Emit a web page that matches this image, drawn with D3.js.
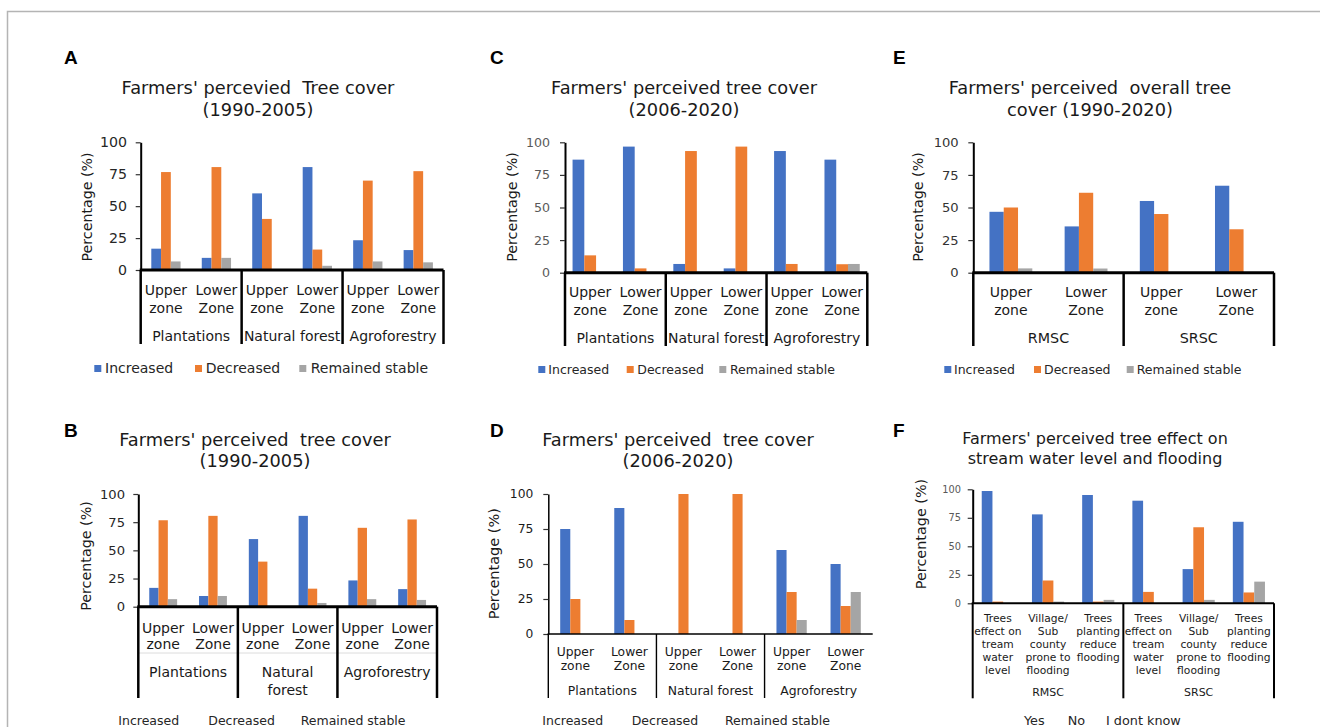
<!DOCTYPE html>
<html><head><meta charset="utf-8">
<script src="https://cdn.jsdelivr.net/npm/d3@7"></script>
<style>
body{margin:0;background:#fff}
svg{display:block}
text{font-family:"DejaVu Sans",Verdana,sans-serif;white-space:pre}
</style>
</head><body>
<svg id="c" width="1320" height="727"></svg>
<script>
// ---------------- DATA ----------------
const yTicks = [0, 25, 50, 75, 100];
const treeLegend = ["Increased", "Decreased", "Remained stable"];
const floodLegend = ["Yes", "No", "I dont know"];

const zoneCats6 = [["Upper","zone"],["Lower","Zone"],["Upper","zone"],["Lower","Zone"],["Upper","zone"],["Lower","Zone"]];
const zoneCats4 = [["Upper","zone"],["Lower","Zone"],["Upper","zone"],["Lower","Zone"]];
const forestGroups = [["Plantations"],["Natural forest"],["Agroforestry"]];
const forestGroupsB = [["Plantations"],["Natural","forest"],["Agroforestry"]];
const catchGroups = [["RMSC"],["SRSC"]];
const floodCats = [
  ["Trees","effect on","tream","water","level"],
  ["Village/","Sub","county","prone to","flooding"],
  ["Trees","planting","reduce","flooding"],
  ["Trees","effect on","tream","water","level"],
  ["Village/","Sub","county","prone to","flooding"],
  ["Trees","planting","reduce","flooding"]
];

// Panel A / B (1990-2005)
const earlyIncreased = [16.7, 9.5, 60, 80.6, 23.3, 15.6];
const earlyDecreased = [76.7, 80.6, 40, 16, 70, 77.4];
const earlyStable    = [6.7, 9.5, 0, 3.3, 6.7, 6];
// Panel C (2006-2020)
const cIncreased = [86.7, 96.7, 6.7, 3.3, 93.3, 86.7];
const cDecreased = [13.3, 3.3, 93.3, 96.7, 6.7, 6.5];
const cStable    = [0, 0, 0, 0, 0, 6.7];
// Panel D (2006-2020)
const dIncreased = [75, 90, 0, 0, 60, 50];
const dDecreased = [25, 10, 100, 100, 30, 20];
const dStable    = [0, 0, 0, 0, 10, 30];
// Panel E (overall 1990-2020)
const eIncreased = [46.7, 35.5, 55, 66.7];
const eDecreased = [50, 61.3, 45, 33.3];
const eStable    = [3.3, 3.2, 0, 0];
// Panel F (flooding)
const fYes  = [98.5, 78, 95, 90, 30, 71.5];
const fNo   = [1.5, 20, 1.5, 10, 66.7, 9.5];
const fIdk  = [0, 1.5, 3, 0, 3, 19];

const colors = ["#4472C4", "#ED7D31", "#A5A5A5"];

// ---------------- DRAW ----------------
const svg = d3.select("#c");
svg.append("rect").attr("x", 7.5).attr("y", 11.5).attr("width", 1340).attr("height", 740)
  .attr("fill", "none").attr("stroke", "#b4b4b4").attr("stroke-width", 1.5);

function panel(cfg) {
  const g = svg.append("g");
  const n = cfg.cats.length;
  const x = d3.scaleBand().domain(d3.range(n)).range([cfg.axX, cfg.axR])
    .paddingInner(cfg.pad).paddingOuter(cfg.pad / 2);
  const xs = d3.scaleBand().domain(d3.range(cfg.series.length)).range([0, x.bandwidth()]);
  const y = d3.scaleLinear().domain([0, 100]).range([cfg.y0, cfg.y100]);
  const step = x.step();

  // bars
  cfg.series.forEach((vals, si) => {
    g.append("g").selectAll("rect").data(vals).join("rect")
      .attr("x", (d, i) => x(i) + xs(si))
      .attr("width", xs.bandwidth())
      .attr("y", d => y(d))
      .attr("height", d => y(0) - y(d))
      .attr("fill", colors[si]);
  });

  // y axis
  const ya = g.append("g").attr("transform", `translate(${cfg.axX},0)`)
    .call(d3.axisLeft(y).tickValues(yTicks).tickSize(5).tickSizeOuter(0).tickPadding(cfg.tickGap - 5));
  ya.attr("font-size", cfg.tickFs);
  ya.select(".domain").attr("stroke", "#000").attr("stroke-width", cfg.yW);
  ya.selectAll(".tick line").attr("stroke", "#333").attr("stroke-width", 1.2);
  ya.selectAll(".tick text").attr("fill", cfg.tickColor);

  // y label
  g.append("text")
    .attr("transform", `translate(${cfg.ylX},${cfg.ylY}) rotate(-90)`)
    .attr("text-anchor", "middle").attr("font-size", cfg.ylFs).attr("fill", "#1a1a1a")
    .text("Percentage (%)");

  // x axis line
  g.append("line").attr("x1", cfg.axX - cfg.yW / 2).attr("x2", cfg.axR)
    .attr("y1", cfg.y0).attr("y2", cfg.y0)
    .attr("stroke", "#000").attr("stroke-width", cfg.xW);

  // optional faint mid line
  if (cfg.midLine) {
    g.append("line").attr("x1", cfg.axX).attr("x2", cfg.axR)
      .attr("y1", cfg.midLine).attr("y2", cfg.midLine)
      .attr("stroke", "#dcdcdc").attr("stroke-width", 1);
  }

  // group separators
  const cpg = n / cfg.groups.length;
  const bounds = d3.range(0, cfg.groups.length + 1).map(k => k * cpg)
    .filter(b => !(cfg.noRight && b === n));
  g.selectAll(".sep").data(bounds).join("line")
    .attr("x1", b => cfg.axX + b * step).attr("x2", b => cfg.axX + b * step)
    .attr("y1", cfg.y0).attr("y2", cfg.sepBottom)
    .attr("stroke", "#000").attr("stroke-width", cfg.sepW);

  // category labels
  cfg.cats.forEach((lines, i) => {
    const t = g.append("text").attr("text-anchor", "middle")
      .attr("font-size", cfg.catFs).attr("fill", "#1a1a1a");
    lines.forEach((ln, j) => {
      t.append("tspan").attr("x", cfg.axX + (i + 0.5) * step)
        .attr("y", cfg.catY + j * cfg.catLH).text(ln);
    });
  });

  // group labels
  cfg.groups.forEach((lines, gi) => {
    const t = g.append("text").attr("text-anchor", "middle")
      .attr("font-size", cfg.grpFs).attr("fill", "#1a1a1a");
    lines.forEach((ln, j) => {
      t.append("tspan").attr("x", cfg.axX + (gi * cpg + cpg / 2) * step)
        .attr("y", cfg.grpY + j * cfg.grpLH).text(ln);
    });
  });

  // title
  const tt = g.append("text").attr("text-anchor", "middle")
    .attr("font-size", cfg.tFs).attr("fill", "#1a1a1a");
  cfg.title.forEach((ln, j) => {
    tt.append("tspan").attr("x", cfg.tx).attr("y", cfg.ty[j]).text(ln);
  });

  // panel letter
  g.append("text").attr("x", cfg.lx).attr("y", cfg.ly)
    .attr("font-size", 19).attr("font-weight", "bold").attr("fill", "#000")
    .style("font-family", "'Liberation Sans',Arial,sans-serif")
    .text(cfg.letter);

  // legend
  cfg.legend.forEach((name, k) => {
    if (cfg.legSq) {
      g.append("rect").attr("x", cfg.legSq[k]).attr("y", cfg.legY - cfg.sq - 1)
        .attr("width", cfg.sq).attr("height", cfg.sq).attr("fill", colors[k]);
    }
    g.append("text").attr("x", cfg.legTx[k]).attr("y", cfg.legY)
      .attr("font-size", cfg.legFs).attr("fill", "#262626").text(name);
  });
}

// Panel A
panel({
  letter: "A", lx: 64, ly: 64,
  title: ["Farmers' percevied  Tree cover", "(1990-2005)"], tx: 258, ty: [94, 116], tFs: 17.8,
  series: [earlyIncreased, earlyDecreased, earlyStable], cats: zoneCats6, groups: forestGroups,
  axX: 140.7, axR: 443.5, y0: 270, y100: 142.3, pad: 0.42,
  tickFs: 14.2, tickGap: 13.7, tickColor: "#262626", yW: 2,
  ylX: 92, ylY: 207, ylFs: 14.2,
  xW: 3, sepW: 2.5, sepBottom: 344,
  catFs: 14, catY: 295, catLH: 17.7, grpFs: 14, grpY: 340.5, grpLH: 17,
  legend: treeLegend, legSq: [94.3, 195, 299.3], legTx: [105, 205.7, 310.7], legY: 373, sq: 7, legFs: 14
});

// Panel B
panel({
  letter: "B", lx: 64, ly: 437,
  title: ["Farmers' perceived  tree cover", "(1990-2005)"], tx: 255, ty: [446, 467], tFs: 17.8,
  series: [earlyIncreased, earlyDecreased, earlyStable], cats: zoneCats6, groups: forestGroupsB,
  axX: 138.3, axR: 437, y0: 606.7, y100: 494, pad: 0.44,
  tickFs: 13.1, tickGap: 13.3, tickColor: "#262626", yW: 2,
  ylX: 90.5, ylY: 556, ylFs: 14.3,
  xW: 3, sepW: 2.5, sepBottom: 698, midLine: 653,
  catFs: 14, catY: 632.7, catLH: 16.5, grpFs: 14, grpY: 677, grpLH: 18,
  legend: treeLegend, legSq: null, legTx: [118.3, 208.3, 300.7], legY: 725, sq: 7, legFs: 12.5
});

// Panel C
panel({
  letter: "C", lx: 490, ly: 64,
  title: ["Farmers' perceived tree cover", "(2006-2020)"], tx: 684, ty: [94, 116], tFs: 17.8,
  series: [cIncreased, cDecreased, cStable], cats: zoneCats6, groups: forestGroups,
  axX: 565, axR: 867.3, y0: 272.7, y100: 142.3, pad: 0.30,
  tickFs: 12.6, tickGap: 15, tickColor: "#595959", yW: 2,
  ylX: 516.5, ylY: 207, ylFs: 14.3,
  xW: 3, sepW: 2.5, sepBottom: 346,
  catFs: 14, catY: 297, catLH: 18, grpFs: 14, grpY: 342.7, grpLH: 17,
  legend: treeLegend, legSq: [538.3, 626.7, 719.3], legTx: [548.3, 637.3, 730], legY: 374, sq: 7, legFs: 12.5
});

// Panel D
panel({
  letter: "D", lx: 490, ly: 437,
  title: ["Farmers' perceived  tree cover", "(2006-2020)"], tx: 678, ty: [446, 467], tFs: 17.8,
  series: [dIncreased, dDecreased, dStable], cats: zoneCats6, groups: forestGroups,
  axX: 548.3, axR: 872.7, y0: 634, y100: 494, pad: 0.44,
  tickFs: 12.3, tickGap: 15, tickColor: "#1a1a1a", yW: 1.5,
  ylX: 498.5, ylY: 563.7, ylFs: 14.5,
  xW: 1.5, sepW: 1.4, sepBottom: 698, noRight: true,
  catFs: 12.3, catY: 655.7, catLH: 14.5, grpFs: 12.4, grpY: 695, grpLH: 15,
  legend: treeLegend, legSq: null, legTx: [542.3, 631.7, 725], legY: 725, sq: 7, legFs: 12.5
});

// Panel E
panel({
  letter: "E", lx: 893, ly: 64,
  title: ["Farmers' perceived  overall tree", "cover (1990-2020)"], tx: 1090, ty: [94, 116], tFs: 17.8,
  series: [eIncreased, eDecreased, eStable], cats: zoneCats4, groups: catchGroups,
  axX: 973.3, axR: 1274, y0: 272.7, y100: 142.3, pad: 0.43,
  tickFs: 13.1, tickGap: 14.6, tickColor: "#333333", yW: 2,
  ylX: 923, ylY: 207, ylFs: 14.3,
  xW: 3, sepW: 2.5, sepBottom: 346,
  catFs: 14, catY: 297, catLH: 18, grpFs: 14.3, grpY: 343, grpLH: 17,
  legend: treeLegend, legSq: [944.3, 1034, 1126.7], legTx: [954, 1044, 1136.7], legY: 374, sq: 7, legFs: 12.5
});

// Panel F
panel({
  letter: "F", lx: 893, ly: 437,
  title: ["Farmers' perceived tree effect on", "stream water level and flooding"], tx: 1095, ty: [444.3, 464.3], tFs: 16,
  series: [fYes, fNo, fIdk], cats: floodCats, groups: catchGroups,
  axX: 972.7, axR: 1274, y0: 603.3, y100: 489.3, pad: 0.36,
  tickFs: 9.8, tickGap: 11.7, tickColor: "#595959", yW: 2,
  ylX: 926, ylY: 534, ylFs: 14.4,
  xW: 2, sepW: 2, sepBottom: 698.3,
  catFs: 10.7, catY: 622.3, catLH: 12.8, grpFs: 11, grpY: 696, grpLH: 13,
  legend: floodLegend, legSq: null, legTx: [1024, 1067.7, 1106], legY: 725, sq: 7, legFs: 12.8
});
</script>
</body></html>
